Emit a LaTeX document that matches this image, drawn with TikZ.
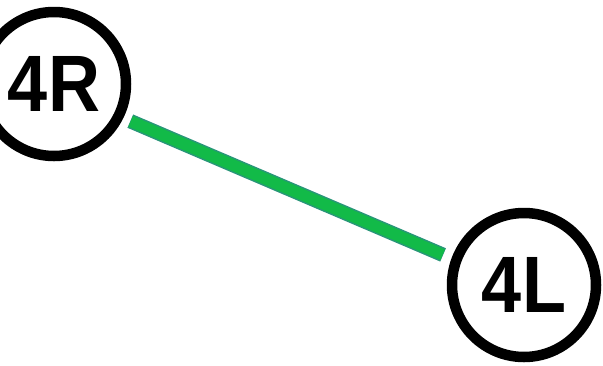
\documentclass[tikz,border=0pt]{standalone}
\usepackage{fontspec}
\usetikzlibrary{calc}
\setmainfont{Liberation Sans}
\begin{document}
\begin{tikzpicture}[x=1pt,y=-1pt,
  ring/.style={circle,draw=black,line width=10.5pt,minimum size=144pt,inner sep=0pt,
    font=\fontsize{80}{80}\selectfont\bfseries},
  greenedge/.style={draw={rgb,255:red,40;green,150;blue,120},line width=14.5pt,shorten <=83pt,shorten >=88pt},
  greenfill/.style={draw={rgb,255:red,18;green,186;blue,72},line width=11.5pt,shorten <=83.5pt,shorten >=88.5pt}]
\useasboundingbox (0,0) rectangle (603,365);
\clip (0,0) rectangle (603,365);
\node[ring] (r4) at (54,84) {\scalebox{0.9}[1]{4R}};
\node[ring] (l4) at (524,285) {\scalebox{0.9}[1]{4L}};
\draw[greenedge] ($(r4.center)+(0,4.5)$) -- ($(l4.center)+(0,4.5)$);
\draw[greenfill] ($(r4.center)+(0,4.5)$) -- ($(l4.center)+(0,4.5)$);
\end{tikzpicture}
\end{document}
